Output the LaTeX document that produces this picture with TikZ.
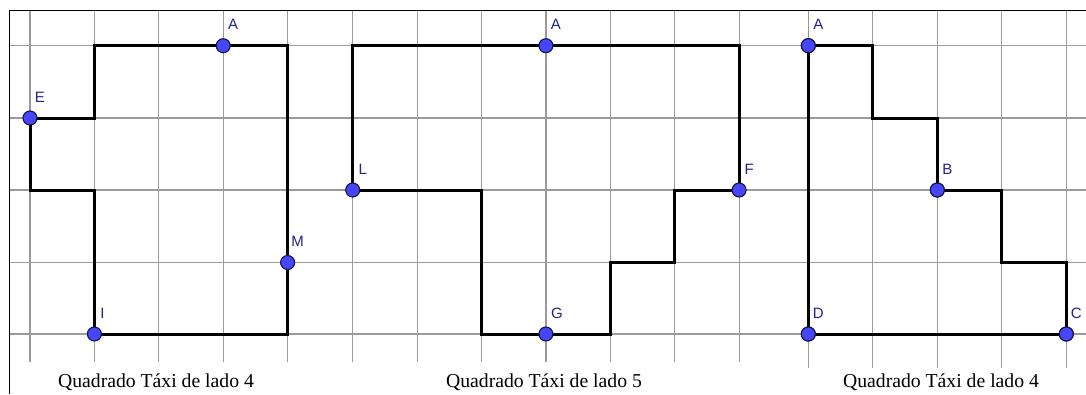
\documentclass[tikz,border=0pt]{standalone}
\usepackage{fontspec}
\setmainfont{Liberation Serif}
\newfontfamily\lblfont{Liberation Sans}
\definecolor{gridgray}{RGB}{155,155,155}
\definecolor{ptblue}{RGB}{70,70,255}
\definecolor{ptdark}{RGB}{20,20,70}
\definecolor{lblblue}{RGB}{35,35,140}
\begin{document}
\begin{tikzpicture}[x=1pt,y=-1pt,
  gridline/.style={draw=gridgray,line width=1.2pt},
  taxi/.style={draw=black,line width=3pt,line join=miter},
  pt/.style={circle,fill=ptblue,draw=ptdark,line width=1.1pt,minimum size=14pt,inner sep=0pt},
  lbl/.style={text=lblblue,font=\lblfont\fontsize{15}{17}\selectfont,inner sep=0pt},
  caption/.style={anchor=base,font=\fontsize{19.7}{22}\selectfont,inner sep=0pt}]
\useasboundingbox (0,0) rectangle (1086,394);
\fill[white] (0,0) rectangle (1086,394);
% horizontal grid lines
\foreach \r in {45.7,118,190,262.5,334}{\draw[gridline] (9.3,\r) -- (1086,\r);}
% vertical grid lines
\foreach \c in {30,94.4,158.8,223.2,287.6,352.7,417.1,481.5,545.9,610.3,674.7,739.1}{\draw[gridline] (\c,10) -- (\c,362);}
\foreach \c in {808.3,872.8,937.3,1001.8,1066.3}{\draw[gridline] (\c,10) -- (\c,368);}
% frame
\draw[black,line width=1pt] (1086,10) -- (9.3,10) -- (9.3,394);
% ---------- panel 1 ----------
\coordinate (p1a) at (94.4,45.7);
\coordinate (p1b) at (287.6,45.7);
\coordinate (p1c) at (287.6,334);
\coordinate (p1d) at (94.4,334);
\coordinate (p1e) at (94.4,190);
\coordinate (p1f) at (30,190);
\coordinate (p1g) at (30,118);
\coordinate (p1h) at (94.4,118);
\draw[taxi] (p1a) -- (p1b) -- (p1c) -- (p1d) -- (p1e) -- (p1f) -- (p1g) -- (p1h) -- cycle;
\node[pt] (A1) at (223.2,45.7) {};
\node[pt] (E1) at (30,118) {};
\node[pt] (M1) at (287.6,262.5) {};
\node[pt] (I1) at (94.4,334) {};
\path (A1) ++(10,-21) node[lbl] (lA1) {A};
\path (E1) ++(10,-21) node[lbl] (lE1) {E};
\path (M1) ++(10,-21) node[lbl] (lM1) {M};
\path (I1) ++(8,-21) node[lbl] (lI1) {I};
\node[caption] (cap1) at (156,387) {Quadrado Táxi de lado 4};
% ---------- panel 2 ----------
\coordinate (p2a) at (352.7,45.7);
\coordinate (p2b) at (739.1,45.7);
\coordinate (p2c) at (739.1,190);
\coordinate (p2d) at (674.7,190);
\coordinate (p2e) at (674.7,262.5);
\coordinate (p2f) at (610.3,262.5);
\coordinate (p2g) at (610.3,334);
\coordinate (p2h) at (481.5,334);
\coordinate (p2i) at (481.5,190);
\coordinate (p2j) at (352.7,190);
\draw[taxi] (p2a) -- (p2b) -- (p2c) -- (p2d) -- (p2e) -- (p2f) -- (p2g) -- (p2h) -- (p2i) -- (p2j) -- cycle;
\node[pt] (A2) at (545.9,45.7) {};
\node[pt] (L2) at (352.7,190) {};
\node[pt] (F2) at (739.1,190) {};
\node[pt] (G2) at (545.9,334) {};
\path (A2) ++(10,-21) node[lbl] (lA2) {A};
\path (L2) ++(10,-21) node[lbl] (lL2) {L};
\path (F2) ++(10,-21) node[lbl] (lF2) {F};
\path (G2) ++(11,-21) node[lbl] (lG2) {G};
\node[caption] (cap2) at (544,387) {Quadrado Táxi de lado 5};
% ---------- panel 3 ----------
\coordinate (p3b) at (872.8,45.7);
\coordinate (p3c) at (872.8,118);
\coordinate (p3d) at (937.3,118);
\coordinate (p3f) at (1001.8,190);
\coordinate (p3g) at (1001.8,262.5);
\coordinate (p3h) at (1066.3,262.5);
\node[pt] (A3) at (808.3,45.7) {};
\node[pt] (B3) at (937.3,190) {};
\node[pt] (C3) at (1066.3,334) {};
\node[pt] (D3) at (808.3,334) {};
\draw[taxi] (A3.center) -- (p3b) -- (p3c) -- (p3d) -- (B3.center) -- (p3f) -- (p3g) -- (p3h) -- (C3.center) -- (D3.center) -- cycle;
\node[pt] at (A3) {};
\node[pt] at (B3) {};
\node[pt] at (C3) {};
\node[pt] at (D3) {};
\path (A3) ++(10,-21) node[lbl] (lA3) {A};
\path (B3) ++(10,-21) node[lbl] (lB3) {B};
\path (C3) ++(10,-21) node[lbl] (lC3) {C};
\path (D3) ++(10,-21) node[lbl] (lD3) {D};
\node[caption] (cap3) at (941,387) {Quadrado Táxi de lado 4};
\end{tikzpicture}
\end{document}
